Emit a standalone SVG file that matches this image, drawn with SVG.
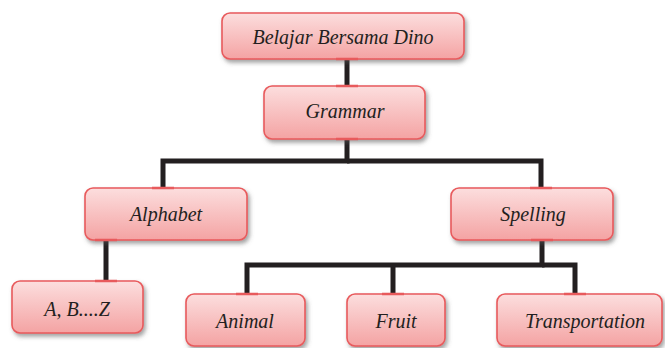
<svg xmlns="http://www.w3.org/2000/svg" width="665" height="348" viewBox="0 0 665 348">
<defs>
<linearGradient id="g" x1="0" y1="0" x2="0" y2="1">
<stop offset="0" stop-color="#fcdede"/>
<stop offset="1" stop-color="#f4a3a3"/>
</linearGradient>
<filter id="sh" x="-10%" y="-20%" width="130%" height="150%">
<feDropShadow dx="2" dy="3" stdDeviation="2" flood-color="#555" flood-opacity="0.55"/>
</filter>
</defs>
<style>
.box{fill:url(#g);stroke:#e85a5c;stroke-width:1.6;filter:url(#sh)}
.t{font-family:'Times New Roman',Tinos,'Liberation Serif',Times,'DejaVu Serif',serif;font-style:italic;font-size:20px;fill:#231f20;text-anchor:middle}
.c{fill:none;stroke:#231f20;stroke-width:5;stroke-linejoin:miter}
.m{stroke:#e85a5c;stroke-width:2.5}
</style>
<g id="connectors">
<path class="c" d="M347 59V86"/>
<path class="c" d="M347 139V161H163V188"/>
<path class="c" d="M347 161H541V188"/>
<path class="c" d="M106 240V281"/>
<path class="c" d="M542 240V265H247V294"/>
<path class="c" d="M393 265V294"/>
<path class="c" d="M542 265H575V294"/>
</g>
<g id="n1"><rect class="box" x="222" y="13" width="242" height="46" rx="8"/><text class="t" x="343" y="44">Belajar Bersama Dino</text></g>
<g id="n2"><rect class="box" x="264" y="86" width="161" height="53" rx="8"/><text class="t" x="345" y="118">Grammar</text></g>
<g id="n3"><rect class="box" x="85" y="188" width="162" height="52" rx="8"/><text class="t" x="166" y="221">Alphabet</text></g>
<g id="n4"><rect class="box" x="451" y="188" width="162" height="52" rx="8"/><text class="t" x="533" y="221">Spelling</text></g>
<g id="n5"><rect class="box" x="12" y="281" width="131" height="52" rx="8"/><text class="t" x="77" y="316">A, B....Z</text></g>
<g id="n6"><rect class="box" x="186" y="294" width="119" height="52" rx="8"/><text class="t" x="245" y="328">Animal</text></g>
<g id="n7"><rect class="box" x="347" y="294" width="98" height="52" rx="8"/><text class="t" x="396" y="328">Fruit</text></g>
<g id="n8"><rect class="box" x="497" y="294" width="165" height="52" rx="8"/><text class="t" x="585" y="328">Transportation</text></g>
<g id="marks">
<path class="m" d="M336 59H358M336 86H358M336 139H358M152 188H174M530 188H552M95 240H117M95 281H117M531 240H553M236 294H258M382 294H404M564 294H586"/>
</g>
</svg>
